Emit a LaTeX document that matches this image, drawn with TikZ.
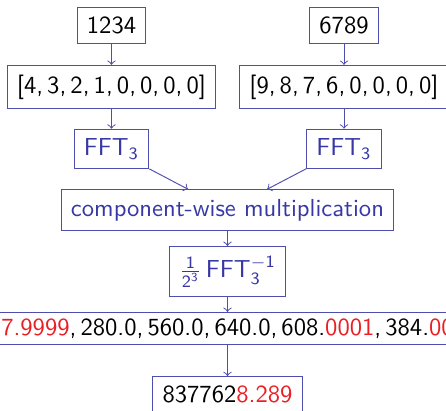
\documentclass[tikz,border=0pt]{standalone}
\usepackage{amsmath}
\usepackage{xcolor}
\definecolor{bstruct}{RGB}{55,55,165}
\definecolor{bline}{RGB}{78,78,175}
\definecolor{balert}{RGB}{235,30,35}
\newcommand{\cs}{,\,}
\begin{document}
\begin{tikzpicture}[x=0.41667pt,y=-0.41667pt,
  box/.style={draw=bline, inner xsep=4.1pt, inner ysep=3.9pt, font=\sffamily\fontsize{10.25}{12}\selectfont},
  opbox/.style={box, text=bstruct},
  arr/.style={->, draw=bline}]
\useasboundingbox (0,0) rectangle (446,411);
\node[box] (a) at (111.5,25.5) {1234};
\node[box] (b) at (344,25.5) {6789};
\node[box] (av) at (111.5,87) {[4\cs 3\cs 2\cs 1\cs 0\cs 0\cs 0\cs 0]};
\node[box] (bv) at (344,87) {[9\cs 8\cs 7\cs 6\cs 0\cs 0\cs 0\cs 0]};
\node[opbox] (fa) at (111.5,149) {FFT$_{\text{3}}$};
\node[opbox] (fb) at (344,149) {FFT$_{\text{3}}$};
\node[opbox] (m) at (227.5,210) {component-wise multiplication};
\node[opbox] (inv) at (227.5,271.5) {$\frac{\text{1}}{\text{2}^{\text{3}}}$\,FFT$_{\text{3}}^{-\text{1}}$};
\node[box, inner ysep=2.6pt, minimum width=240pt] (w) at (227.5,328.5)
  {\textcolor{balert}{7.9999}\cs 280.0\cs 560.0\cs 640.0\cs 608.\textcolor{balert}{0001}\cs 384.\textcolor{balert}{00}};
\node[box] (r) at (227.5,394.5) {837762\textcolor{balert}{8.289}};
\draw[arr] (a) -- (av);
\draw[arr] (b) -- (bv);
\draw[arr] (av) -- (fa);
\draw[arr] (bv) -- (fb);
\draw[arr] (fa) -- (m);
\draw[arr] (fb) -- (m);
\draw[arr] (m) -- (inv);
\draw[arr] (inv) -- (w);
\draw[arr] (w) -- (r);
\end{tikzpicture}
\end{document}
